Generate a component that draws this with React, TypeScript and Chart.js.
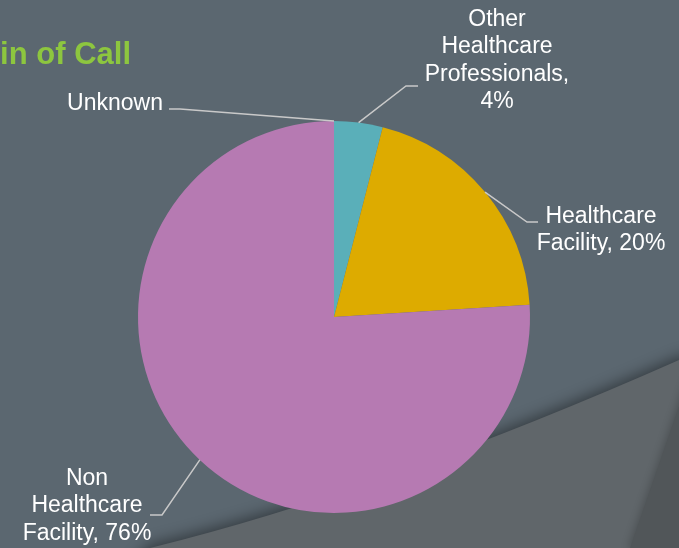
import React, { useEffect, useRef } from "react";
import { Chart, registerables } from "chart.js";

Chart.register(...registerables);

// ---- data ----
const categories = ["Unknown", "Other Healthcare Professionals", "Healthcare Facility", "Non Healthcare Facility"];
const values = [0, 4, 20, 76];
const colors = ["#b67ab2", "#5aafb9", "#ddab00", "#b67ab2"];
const labelLines = [
  ["Unknown"],
  ["Other", "Healthcare", "Professionals,", "4%"],
  ["Healthcare", "Facility, 20%"],
  ["Non", "Healthcare", "Facility, 76%"],
];
const titleText = "Origin of Call";

// ---- label layout (positions only) ----
const labelLayout = [
  { elbow: [180, 109], end: [169, 109], tx: 163, ty: 110, align: "right" },
  { elbow: [406, 86], end: [418, 86], tx: 497, ty: 26, align: "center" },
  { elbow: [527, 222], end: [538, 222], tx: 601, ty: 223, align: "center" },
  { elbow: [162, 515], end: [150, 515], tx: 87, ty: 485, align: "center" },
];

const bgPlugin = {
  id: "bg",
  beforeDraw(chart: any) {
    const ctx = chart.ctx;
    const W = chart.width, H = chart.height;
    ctx.save();
    ctx.fillStyle = "#5b6770";
    ctx.fillRect(0, 0, W, H);
    ctx.shadowColor = "rgba(0,0,0,0.4)";
    ctx.shadowBlur = 14;
    ctx.shadowOffsetY = -4;
    ctx.fillStyle = "#60666a";
    ctx.beginPath();
    ctx.moveTo(W + 30, 355);
    ctx.lineTo(679, 360);
    ctx.quadraticCurveTo(385, 490, 150, H);
    ctx.lineTo(120, H + 30);
    ctx.lineTo(W + 30, H + 30);
    ctx.closePath();
    ctx.fill();
    ctx.shadowBlur = 8;
    ctx.shadowOffsetY = 0;
    ctx.shadowOffsetX = -2;
    ctx.shadowColor = "rgba(0,0,0,0.2)";
    ctx.fillStyle = "#515659";
    ctx.beginPath();
    ctx.moveTo(695, 360);
    ctx.lineTo(630, H);
    ctx.lineTo(W + 30, H + 30);
    ctx.closePath();
    ctx.fill();
    ctx.restore();
  },
};

const labelPlugin = {
  id: "pieLabels",
  afterDatasetsDraw(chart: any) {
    const ctx = chart.ctx;
    const meta = chart.getDatasetMeta(0);
    ctx.save();
    meta.data.forEach((arc: any, i: number) => {
      const p = arc.getProps(["x", "y", "startAngle", "endAngle", "outerRadius"], true);
      const mid = (p.startAngle + p.endAngle) / 2;
      const sx = p.x + Math.cos(mid) * p.outerRadius;
      const sy = p.y + Math.sin(mid) * p.outerRadius;
      const L = labelLayout[i];
      ctx.strokeStyle = "#c9c9c9";
      ctx.lineWidth = 1.5;
      ctx.beginPath();
      ctx.moveTo(sx, sy);
      ctx.lineTo(L.elbow[0], L.elbow[1]);
      ctx.lineTo(L.end[0], L.end[1]);
      ctx.stroke();
      ctx.fillStyle = "#ffffff";
      ctx.font = "23px 'Liberation Sans', Arial, sans-serif";
      ctx.textAlign = L.align;
      ctx.textBaseline = "alphabetic";
      labelLines[i].forEach((line, j) => {
        ctx.fillText(line, L.tx, L.ty + j * 27.3);
      });
    });
    // title
    ctx.fillStyle = "#8dc63f";
    ctx.font = "bold 31px 'Liberation Sans', Arial, sans-serif";
    ctx.textAlign = "right";
    ctx.fillText(titleText, 131, 64);
    ctx.restore();
  },
};

export default function App() {
  const ref = useRef<HTMLCanvasElement>(null);
  useEffect(() => {
    if (!ref.current) return;
    const chart = new Chart(ref.current, {
      type: "pie",
      data: {
        labels: categories,
        datasets: [
          {
            data: values,
            backgroundColor: colors,
            borderWidth: 0,
            hoverOffset: 0,
          },
        ],
      },
      options: {
        responsive: false,
        animation: false,
        layout: { padding: { top: 121, bottom: 35, left: 138, right: 149 } },
        plugins: {
          legend: { display: false },
          tooltip: { enabled: false },
          title: { display: false },
        },
      },
      plugins: [bgPlugin, labelPlugin],
    });
    return () => chart.destroy();
  }, []);
  return (
    <div style={{ position: "fixed", left: 0, top: 0, width: 679, height: 548 }}>
      <canvas ref={ref} width={679} height={548} />
    </div>
  );
}
